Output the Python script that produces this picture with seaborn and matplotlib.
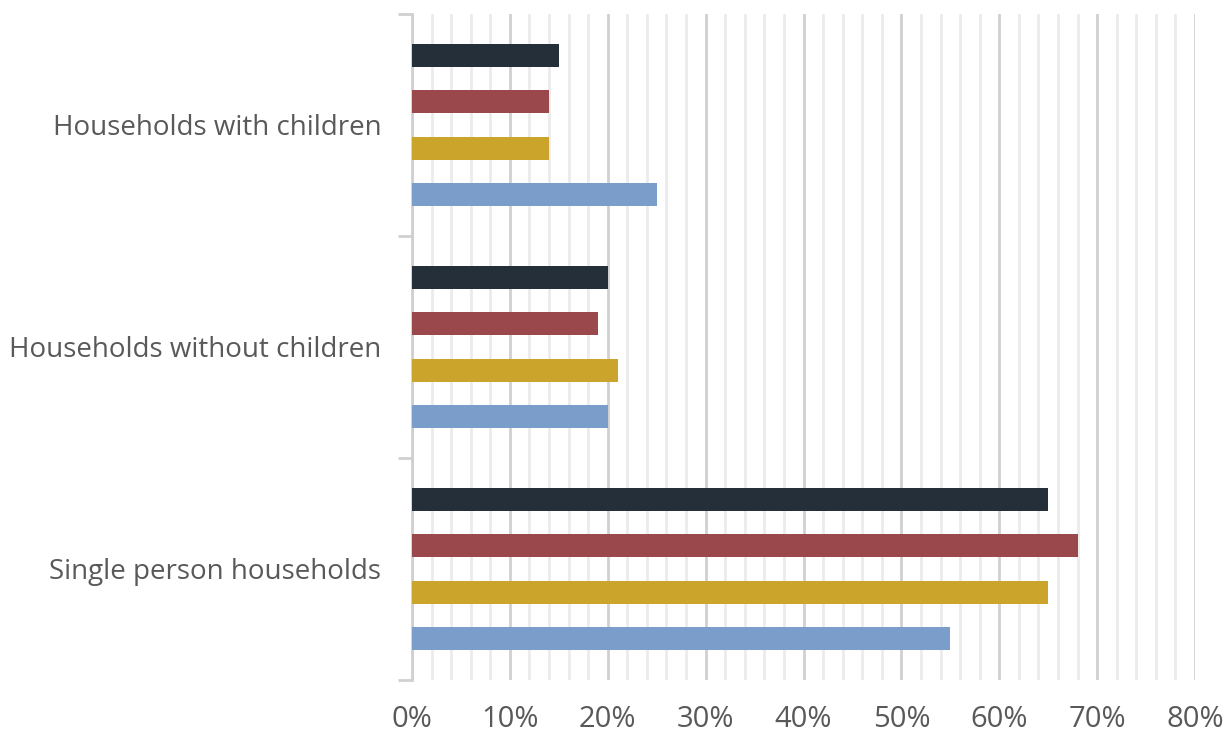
import matplotlib
matplotlib.use("Agg")
import matplotlib.pyplot as plt
from matplotlib.ticker import MultipleLocator, FuncFormatter, FixedLocator
import seaborn as sns
import pandas as pd

categories = ["Households with children", "Households without children", "Single person households"]
series_names = ["Series 1", "Series 2", "Series 3", "Series 4"]
series_1 = [15, 20, 65]
series_2 = [14, 19, 68]
series_3 = [14, 21, 65]
series_4 = [25, 20, 55]
colors = ["#242F3A", "#9A484B", "#CBA52B", "#7A9DC9"]

rows = []
for name, vals in zip(series_names, [series_1, series_2, series_3, series_4]):
    for cat, v in zip(categories, vals):
        rows.append({"category": cat, "series": name, "value": v})
df = pd.DataFrame(rows)

sns.set_theme(style="white")
plt.rcParams["font.family"] = ["Open Sans", "DejaVu Sans"]

fig = plt.figure(figsize=(12.32, 7.36), dpi=100)
ax = fig.add_axes([0.3344, 0.0761, 0.970 - 0.3344, 0.981 - 0.0761])

sns.barplot(data=df, x="value", y="category", hue="series", order=categories,
            hue_order=series_names, palette=colors, orient="h",
            width=0.83, gap=0.5, ax=ax, legend=False, saturation=1,
            linewidth=0, zorder=3)

ax.set_xlim(0, 80)
ax.set_ylim(2.5, -0.5)
ax.xaxis.set_major_locator(MultipleLocator(10))
ax.xaxis.set_minor_locator(MultipleLocator(2))
ax.xaxis.set_major_formatter(FuncFormatter(lambda v, p: f"{int(v)}%"))
ax.grid(which="major", axis="x", color="#D0D0D0", linewidth=2, zorder=0)
ax.grid(which="minor", axis="x", color="#EBEBEB", linewidth=2, zorder=0)
ax.set_axisbelow(True)

ax.yaxis.set_minor_locator(FixedLocator([-0.5, 0.5, 1.5, 2.5]))
ax.tick_params(axis="y", which="major", length=0, pad=22, labelsize=20, labelcolor="#595959")
ax.tick_params(axis="y", which="minor", length=10, width=2, color="#D0D0D0", left=True)
ax.tick_params(axis="x", which="both", length=0, pad=18, labelsize=21, labelcolor="#595959")

for s in ["top", "right", "bottom"]:
    ax.spines[s].set_visible(False)
ax.spines["left"].set_color("#D0D0D0")
ax.spines["left"].set_linewidth(2)

ax.set_xlabel("")
ax.set_ylabel("")

fig.savefig("out.png", dpi=100, facecolor="white")
